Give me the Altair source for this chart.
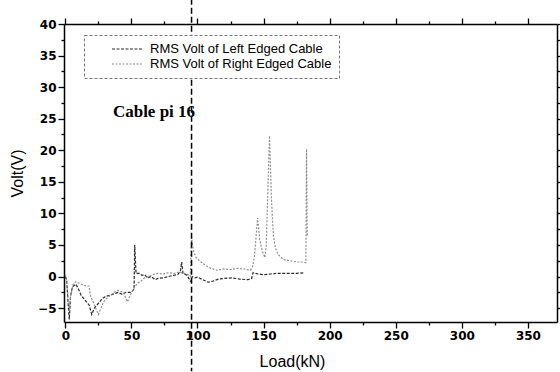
import altair as alt
import pandas as pd

series_names = ["RMS Volt of Left Edged Cable", "RMS Volt of Right Edged Cable"]

left_load = [0, 1, 2, 3, 4, 5, 6, 8, 10, 12, 14, 16, 18, 20, 22, 24, 26, 28, 30, 33, 36, 40, 43, 46, 50, 52,
             52.5, 53.5, 56, 58, 60, 62, 65, 68, 70, 74, 78, 82, 85, 87, 88, 89, 92, 95, 96, 98, 100, 104, 108,
             112, 116, 120, 126, 132, 138, 141, 142, 146, 150, 155, 160, 165, 170, 175, 181]
left_volt = [0, -0.5, -4, -6.8, -3, -2, -1.5, -1.2, -2, -3, -3.5, -4, -4.5, -6, -5, -4.5, -4, -3.5, -3.2, -3,
             -2.8, -2.5, -2.8, -2.5, -2.5, -2, 5, 0.5, 0.5, 0.2, 0.3, -0.2, 0, -0.5, -0.3, -0.2, 0, 0.2, 0.3,
             0.8, 2.3, 0.5, 0.2, -0.8, 0, -0.2, -0.1, -0.5, -0.9, -0.7, -0.4, -0.3, -0.2, -0.4, -0.5, -0.3,
             0.6, 0.4, 0.3, 0.4, 0.5, 0.5, 0.5, 0.5, 0.6]

right_load = [0, 1, 2, 3, 4, 6, 8, 10, 13, 16, 18, 19, 21, 23, 25, 27, 29, 31, 34, 37, 40, 44, 47, 49, 51,
              53, 55, 57, 60, 63, 66, 70, 74, 78, 82, 86, 90, 93, 94.5, 95.5, 97, 99, 102, 106, 110, 115, 120,
              125, 130, 135, 140, 141.5, 143, 145.5, 147, 149, 151, 152, 154.5, 156, 157.5, 159, 161, 165,
              170, 175, 180, 182, 182.5, 183]
right_volt = [0.3, -1, -3, -5.5, -3, -1.2, -0.8, -1, -1.3, -1.5, -1.5, -3, -4, -5, -6, -5, -4, -3.5, -3,
              -2.5, -2.2, -2.5, -4, -3, -2.2, -1.5, -1, -0.8, -0.2, 0, 0.3, 0.5, 0.4, 0.6, 0.5, 0.7, 0.5, 0.3,
              0, 6.2, 4, 3, 2.4, 1.8, 1.3, 1, 1.2, 1.1, 1.3, 1.2, 1.0, 1.5, 3, 9.3, 6, 4, 3, 5, 22.3, 12, 6.3,
              4.5, 3.5, 2.7, 2.5, 2.3, 2.3, 2.2, 20.2, 6.5]

x_tick_values = [0, 25, 50, 75, 100, 125, 150, 175, 200, 225, 250, 275, 300, 325, 350]
y_tick_values = [-5, -2.5, 0, 2.5, 5, 7.5, 10, 12.5, 15, 17.5, 20, 22.5, 25, 27.5, 30, 32.5, 35, 37.5, 40]

marker_load = [95.5]
marker_top = [44]
marker_bottom = [-15]

note_text = ["Cable pi 16"]
note_load = [36]
note_volt = [26]

x_domain = [-1, 372]
y_domain = [-7.2, 40]

df = pd.DataFrame({
    "Load": left_load + right_load,
    "Volt": left_volt + right_volt,
    "Series": [series_names[0]] * len(left_load) + [series_names[1]] * len(right_load),
})

FONT = "Liberation Sans"
TICK_FONT = "DejaVu Sans"

def make_axis(orient, values, major, labels=True, title=None, **extra):
    kw = dict(
        orient=orient,
        values=values,
        grid=False,
        domainColor="black",
        domainWidth=1.5,
        tickColor="black",
        tickWidth=1.3,
        tickSize={"condition": {"test": f"datum.value % {major} !== 0", "value": 3}, "value": 6},
        labels=labels,
    )
    if labels:
        kw.update(
            labelExpr=f"datum.value % {major} === 0 ? datum.label : ''",
            labelFont=TICK_FONT,
            labelFontWeight="bold",
            labelFontSize=12,
            labelColor="black",
        )
    if title:
        kw.update(title=title, titleFont=FONT, titleFontSize=16, titleFontWeight="normal",
                  titleColor="black")
    else:
        kw.update(title=None)
    kw.update(extra)
    return alt.Axis(**kw)

xs = alt.Scale(domain=x_domain, nice=False, zero=False)
ys = alt.Scale(domain=y_domain, nice=False, zero=False)

pad = "\u2007" * 6
legend_spec = alt.Legend(title=None, labelLimit=500, labelExpr=f"datum.label + '{pad}'")

lines = alt.Chart(df).mark_line(strokeWidth=1.2, clip=True).encode(
    x=alt.X("Load:Q", scale=xs,
            axis=make_axis("bottom", x_tick_values, 50, title="Load(kN)", titleX=228)),
    y=alt.Y("Volt:Q", scale=ys,
            axis=make_axis("left", y_tick_values, 5, title="Volt(V)")),
    color=alt.Color("Series:N",
                    scale=alt.Scale(domain=series_names, range=["#2a2a2a", "#8f8f8f"]),
                    legend=legend_spec),
    strokeDash=alt.StrokeDash("Series:N",
                              scale=alt.Scale(domain=series_names, range=[[3, 1.5], [2, 1.5]]),
                              legend=legend_spec),
    detail="Series:N",
)

frame = alt.Chart(df).mark_line(opacity=0).encode(
    x=alt.X("Load:Q", scale=xs, axis=make_axis("top", x_tick_values, 50, labels=False)),
    y=alt.Y("Volt:Q", scale=ys, axis=make_axis("right", y_tick_values, 5, labels=False)),
    detail="Series:N",
)

marker_df = pd.DataFrame({"Load": marker_load, "Top": marker_top, "Bottom": marker_bottom})
marker = alt.Chart(marker_df).mark_rule(clip=False, strokeDash=[6, 3], strokeWidth=1.5,
                                         color="black").encode(
    x=alt.X("Load:Q", scale=xs, axis=None),
    y=alt.Y("Top:Q", scale=ys, axis=None),
    y2="Bottom:Q",
)

note_df = pd.DataFrame({"Load": note_load, "Volt": note_volt, "Text": note_text})
note = alt.Chart(note_df).mark_text(align="left", baseline="middle", font="Liberation Serif",
                                    fontWeight="bold", fontSize=17, color="black").encode(
    x=alt.X("Load:Q", scale=xs, axis=None),
    y=alt.Y("Volt:Q", scale=ys, axis=None),
    text="Text:N",
)

chart = alt.layer(lines, frame, marker, note).resolve_axis(
    x="independent", y="independent"
).properties(
    width=493, height=298,
    padding={"left": 64, "top": 24, "right": 3, "bottom": 50},
    autosize=alt.AutoSizeParams(type="none"),
    background="white",
).configure_view(stroke=None).configure_legend(
    orient="none", legendX=20, legendY=11,
    strokeColor="#777777", strokeDash=[3, 2], fillColor="white",
    padding=7, symbolType="stroke", symbolSize=900, symbolStrokeWidth=1.2,
    symbolOffset=20, labelFont=FONT, labelFontSize=13, labelColor="black",
    labelOffset=7, rowPadding=1, clipHeight=14,
).configure_axis(titlePadding=12)

chart.save("out.html", embed_options={"renderer": "svg", "actions": False})
